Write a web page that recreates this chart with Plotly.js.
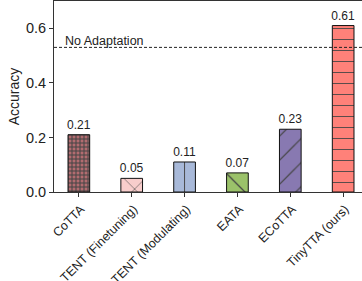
<!DOCTYPE html>
<html><head><meta charset="utf-8">
<script src="https://cdn.plot.ly/plotly-3.0.1.min.js"></script>
<style>html,body{margin:0;padding:0;overflow:hidden;background:#fff;}#chart{width:370px;height:281px;}</style>
</head><body><div id="chart"></div>
<script>
const categories = ["CoTTA", "TENT (Finetuning)", "TENT (Modulating)", "EATA", "ECoTTA", "TinyTTA (ours)"];
const accuracy = [0.21, 0.05, 0.11, 0.07, 0.23, 0.61];
const valueLabels = ["0.21", "0.05", "0.11", "0.07", "0.23", "0.61"];
const baselineValue = 0.53;
const baselineLabel = "No Adaptation";
const barColors = ["#b26c70", "#f8cdcc", "#a8b9d9", "#9bc26a", "#8879b1", "#ff8179"];
const patternShapes = ["+", "x", "|", "\\", "/", "-"];
const patternSizes = [4, 19, 20.09, 21, 17, 11];
const patternSolidity = [0.45, 0.06, 0.05, 0.06, 0.07, 0.08];

const xIdx = categories.map((_, i) => i);
const trace = {
  type: "bar",
  x: xIdx,
  y: accuracy,
  width: 0.41,
  text: valueLabels,
  textposition: "outside",
  constraintext: "none",
  cliponaxis: false,
  textfont: {family: "Liberation Sans, Arial, sans-serif", size: 12, color: "#222"},
  marker: {
    color: barColors,
    line: {color: "#111", width: 1},
    pattern: {
      shape: patternShapes, size: patternSizes, solidity: patternSolidity,
      fillmode: "overlay", fgcolor: categories.map(() => "#111"), fgopacity: 1
    }
  },
  hoverinfo: "none"
};
const layout = {
  width: 370, height: 281,
  margin: {l: 54, r: 2, t: 1, b: 89},
  paper_bgcolor: "#fff", plot_bgcolor: "#fff",
  showlegend: false,
  font: {family: "Liberation Sans, Arial, sans-serif", color: "#222"},
  xaxis: {
    range: [-0.47, 5.47],
    tickvals: xIdx, ticktext: categories,
    tickangle: -45,
    ticklabelshift: 2,
    ticks: "outside", ticklen: 4, tickcolor: "#333",
    showline: true, linecolor: "#333", linewidth: 1, mirror: true,
    showgrid: false, zeroline: false,
    tickfont: {size: 12.5, color: "#222"}
  },
  yaxis: {
    range: [0, 0.7],
    tickvals: [0, 0.2, 0.4, 0.6], ticktext: ["0.0", "0.2", "0.4", "0.6"],
    ticks: "outside", ticklen: 4, tickcolor: "#333",
    showline: true, linecolor: "#333", linewidth: 1, mirror: true,
    showgrid: false, zeroline: false,
    tickfont: {size: 14.5, color: "#222"},
    title: {text: "Accuracy", font: {size: 14, color: "#222"}, standoff: 3}
  },
  shapes: [{
    type: "line", xref: "paper", x0: 0, x1: 1, yref: "y", y0: baselineValue, y1: baselineValue,
    line: {color: "#222", width: 1, dash: "3px,2px"}
  }],
  annotations: [{
    xref: "paper", x: 0.03, yref: "y", y: baselineValue, text: baselineLabel,
    showarrow: false, xanchor: "left", yanchor: "bottom", yshift: -3,
    font: {size: 12.5, color: "#222"}
  }]
};
Plotly.newPlot("chart", [trace], layout, {staticPlot: true, displayModeBar: false});
</script></body></html>
